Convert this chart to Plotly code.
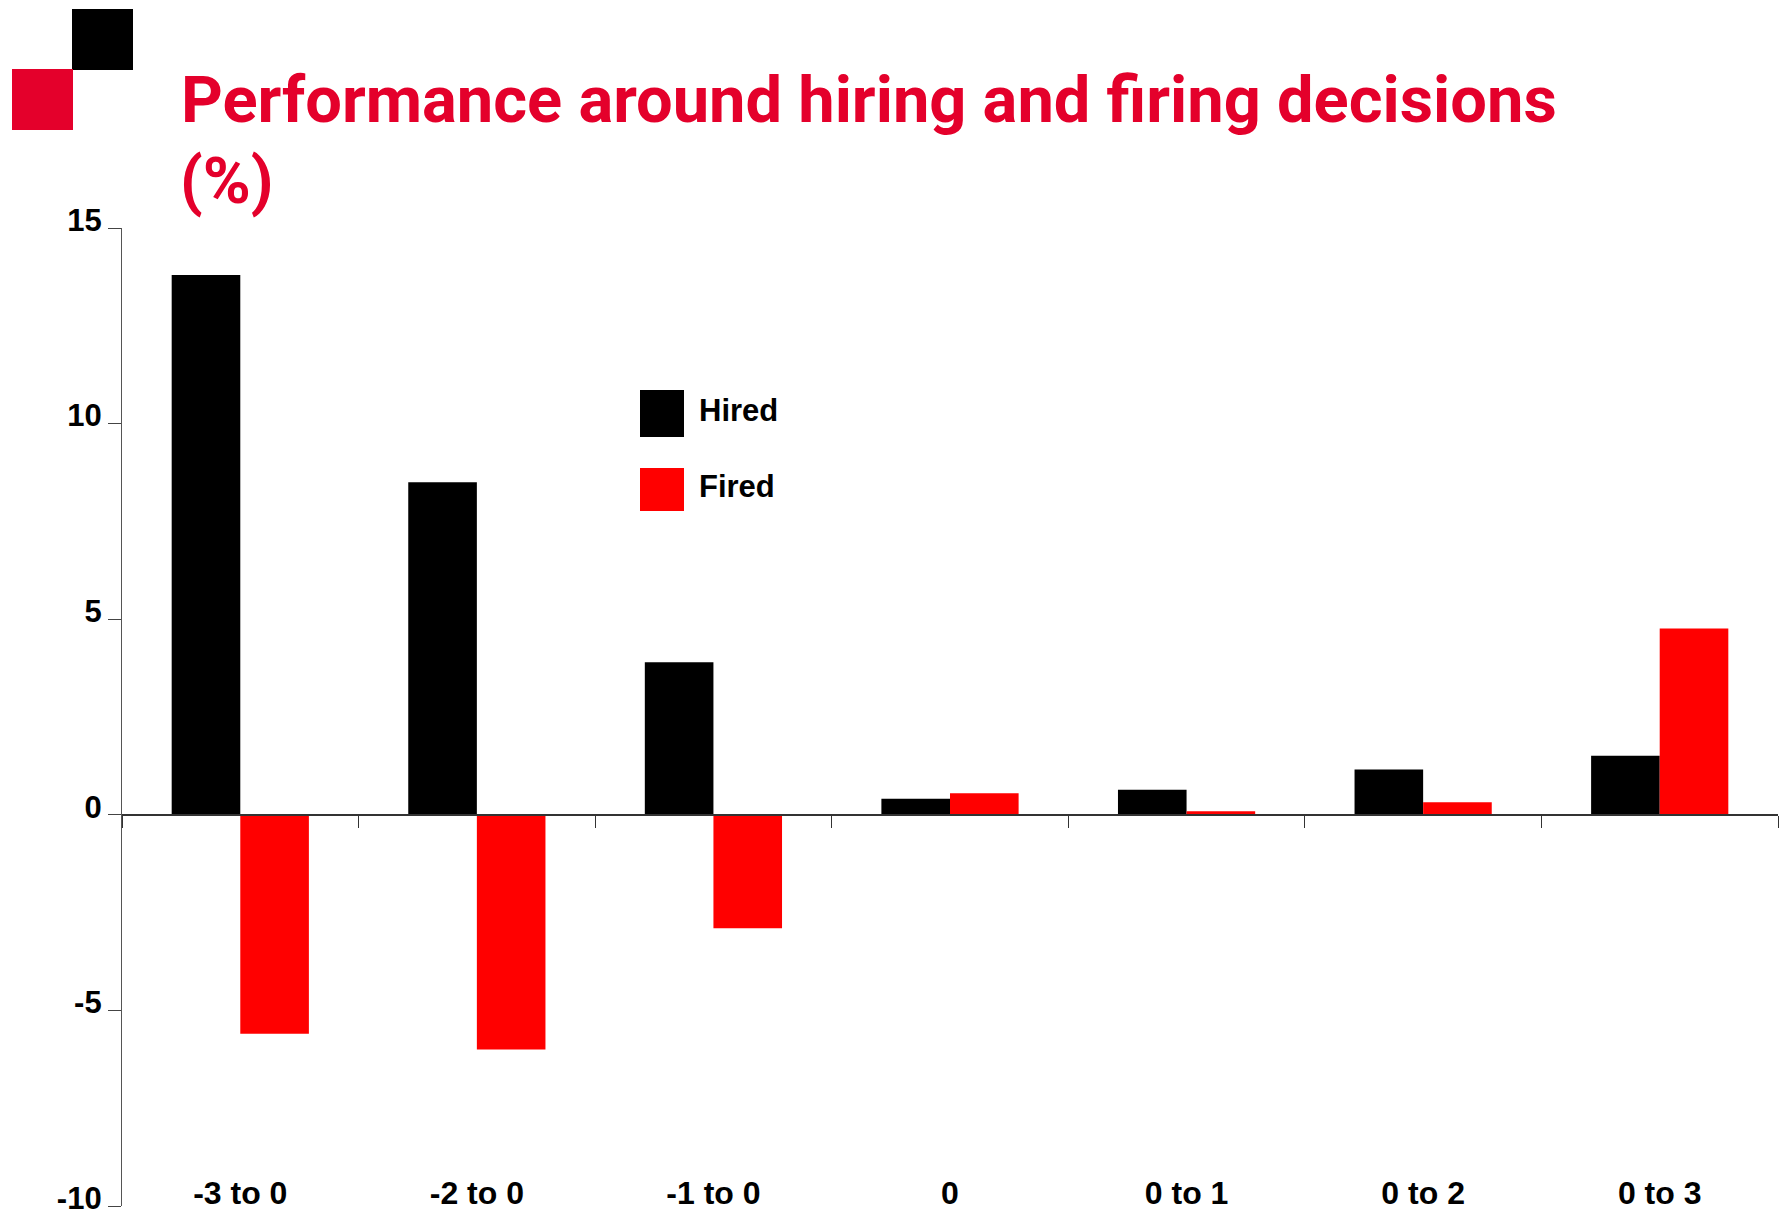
import plotly.graph_objects as go

# ---- data ----
categories = ["-3 to 0", "-2 to 0", "-1 to 0", "0", "0 to 1", "0 to 2", "0 to 3"]
hired = [13.8, 8.5, 3.9, 0.41, 0.64, 1.16, 1.51]
fired = [-5.6, -6.0, -2.9, 0.55, 0.09, 0.32, 4.76]
y_ticks = [-10, -5, 0, 5, 10, 15]
y_tick_labels = ["-10", "-5", "0", "5", "10", "15"]
y_range = [-10, 15]

title_line1 = "Performance around hiring and firing decisions"
title_line2 = "(%)"

HIRED_COLOR = "#000000"
FIRED_COLOR = "#FF0000"
TITLE_RED = "#E4002B"
TITLE_FONT = "Roboto, Liberation Sans, Arial"

W, H = 1780, 1212
L, R, T, B = 122, 2, 228, 6


def px2x(px):
    return (px - L) / (W - L - R)


def px2y(py):
    return (H - B - py) / (H - T - B)


fig = go.Figure()
fig.add_trace(go.Bar(x=categories, y=hired, name="Hired",
                     marker=dict(color=HIRED_COLOR, line=dict(width=0)),
                     showlegend=False))
fig.add_trace(go.Bar(x=categories, y=fired, name="Fired",
                     marker=dict(color=FIRED_COLOR, line=dict(width=0)),
                     showlegend=False))
# invisible helper trace so the bottom label axis is drawn
fig.add_trace(go.Scatter(x=categories, y=hired, xaxis="x2", yaxis="y",
                         mode="markers", marker=dict(opacity=0),
                         showlegend=False, hoverinfo="skip"))

zero_pos = (0 - y_range[0]) / (y_range[1] - y_range[0])

fig.update_layout(
    width=W, height=H,
    margin=dict(l=L, r=R, t=T, b=B, pad=0, autoexpand=False),
    paper_bgcolor="white", plot_bgcolor="white",
    barmode="group", bargap=0.42, bargroupgap=0,
    showlegend=False,
    font=dict(family="Liberation Sans, Arial, sans-serif", color="black"),
    title=dict(text=title_line1, xref="container", yref="container",
               x=181 / W, xanchor="left", y=1 - 99 / H, yanchor="middle",
               automargin=False,
               font=dict(family=TITLE_FONT, size=65, weight="bold", color=TITLE_RED)),
    xaxis=dict(type="category", range=[-0.5, len(categories) - 0.5],
               anchor="free", position=zero_pos, automargin=False,
               showline=True, linecolor="#333333", linewidth=1.5,
               ticks="outside", ticklen=12, tickcolor="#333333", tickwidth=1.2,
               tickson="boundaries", showticklabels=False,
               showgrid=False, zeroline=False),
    xaxis2=dict(type="category", overlaying="x", anchor="y", side="bottom",
                range=[-0.5, len(categories) - 0.5], automargin=False,
                showline=False, ticks="", showgrid=False, zeroline=False,
                ticklabelposition="inside", ticklabeloverflow="allow",
                ticklabelstandoff=-7,
                tickfont=dict(size=32, weight="bold", color="black")),
    yaxis=dict(range=y_range, tickvals=y_ticks, ticktext=y_tick_labels,
               automargin=False,
               showline=True, linecolor="#555555", linewidth=1.3,
               ticks="outside", ticklen=13, tickcolor="#444444", tickwidth=1.2,
               showgrid=False, zeroline=False, ticklabelshift=-8,
               ticklabeloverflow="allow",
               tickfont=dict(size=31, weight="bold", color="black")),
)

# title second line
fig.add_annotation(text=title_line2, xref="paper", yref="paper",
                   x=px2x(178), y=px2y(181), xanchor="left", yanchor="middle",
                   showarrow=False,
                   font=dict(family=TITLE_FONT, size=65, weight="bold", color=TITLE_RED))

# logo squares
fig.add_shape(type="rect", xref="paper", yref="paper",
              x0=px2x(72), x1=px2x(133), y0=px2y(70), y1=px2y(9),
              fillcolor="#000000", line=dict(width=0), layer="above")
fig.add_shape(type="rect", xref="paper", yref="paper",
              x0=px2x(12), x1=px2x(73), y0=px2y(130), y1=px2y(69),
              fillcolor=TITLE_RED, line=dict(width=0), layer="above")

# custom legend (large square keys)
legend_items = [("Hired", HIRED_COLOR, 390, 437), ("Fired", FIRED_COLOR, 468, 511)]
for name, color, top, bot in legend_items:
    fig.add_shape(type="rect", xref="paper", yref="paper",
                  x0=px2x(640), x1=px2x(684), y0=px2y(bot), y1=px2y(top),
                  fillcolor=color, line=dict(width=0))
    fig.add_annotation(text=name, xref="paper", yref="paper",
                       x=px2x(697), y=px2y((top + bot) / 2 - 3),
                       xanchor="left", yanchor="middle", showarrow=False,
                       font=dict(size=31, weight="bold", color="black"))

fig.write_html("out.html",
               config={"displayModeBar": False},
               post_script="document.body.style.margin='0';"
                           "document.body.style.overflow='hidden';")
